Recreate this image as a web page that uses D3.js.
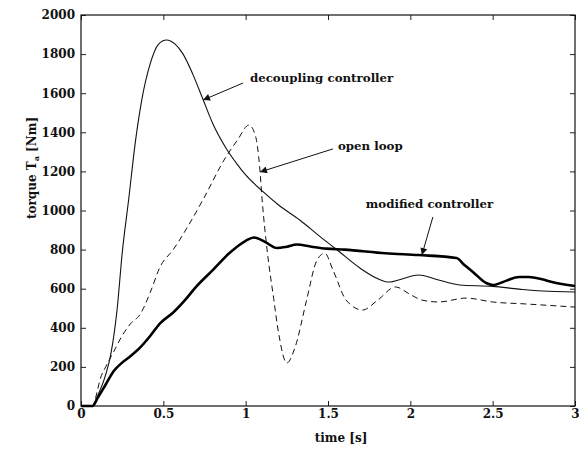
<!DOCTYPE html>
<html>
<head>
<meta charset="utf-8">
<script src="https://cdn.jsdelivr.net/npm/d3@7"></script>
<style>
  body { margin: 0; background: #fff; }
  text { font-family: "DejaVu Serif", serif; font-weight: bold; fill: #111; }
</style>
</head>
<body>
<div id="vis"></div>
<script>
// values: [time s, torque Nm]
var decoupling = [[0,0],[0.07,0],[0.1,50],[0.15,160],[0.18,260],[0.22,500],[0.25,780],[0.29,1060],
  [0.33,1350],[0.37,1570],[0.42,1750],[0.47,1850],[0.52,1872],[0.57,1852],[0.62,1800],[0.68,1695],
  [0.74,1570],[0.8,1445],[0.88,1320],[0.95,1235],[1.0,1182],[1.1,1100],[1.2,1028],[1.33,950],
  [1.45,868],[1.55,802],[1.7,702],[1.8,652],[1.87,634],[1.95,650],[2.05,670],[2.15,650],
  [2.3,619],[2.5,612],[2.66,598],[2.8,588],[3.0,583]];
var openLoop = [[0,0],[0.07,0],[0.1,80],[0.115,133],[0.15,200],[0.2,280],[0.25,360],[0.3,420],
  [0.36,470],[0.42,580],[0.48,711],[0.56,800],[0.65,920],[0.74,1054],[0.88,1274],[0.95,1360],
  [1.02,1437],[1.06,1380],[1.085,1223],[1.1,1054],[1.13,800],[1.17,550],[1.2,373],[1.25,220],
  [1.3,300],[1.37,542],[1.43,740],[1.48,782],[1.53,696],[1.61,542],[1.71,491],[1.8,540],
  [1.91,609],[2.0,570],[2.07,542],[2.17,532],[2.34,552],[2.5,532],[2.7,522],[3.0,506]];
var modified = [[0,0],[0.07,0],[0.1,40],[0.15,110],[0.2,180],[0.25,222],[0.3,255],[0.36,300],
  [0.42,358],[0.48,423],[0.56,478],[0.63,540],[0.7,611],[0.8,695],[0.9,781],[1.0,845],
  [1.05,862],[1.12,838],[1.19,808],[1.25,815],[1.31,826],[1.4,815],[1.49,805],[1.6,800],
  [1.85,781],[2.05,772],[2.28,757],[2.33,720],[2.38,686],[2.46,629],[2.5,619],[2.58,640],
  [2.66,660],[2.72,660],[2.8,648],[2.86,634],[3.0,614]];

var xTicks = [0, 0.5, 1, 1.5, 2, 2.5, 3];
var yTicks = [0, 200, 400, 600, 800, 1000, 1200, 1400, 1600, 1800, 2000];

// annotation text + arrow (start, tip) in data units
var notes = [
  { label: "decoupling controller", at: [1.026, 1657], from: [0.984, 1652], to: [0.741, 1565] },
  { label: "open loop", at: [1.56, 1309], from: [1.53, 1315], to: [1.087, 1197] },
  { label: "modified controller", at: [1.73, 1013], from: [2.137, 967], to: [2.07, 772] }
];

var width = 579, height = 451;
var margin = { top: 15, right: 4, bottom: 45, left: 81 },
  widthVis = width - margin.left - margin.right,
  heightVis = height - margin.top - margin.bottom;

var svg = d3.select("#vis").append("svg")
  .attr("width", width)
  .attr("height", height);

var g = svg.append("g")
  .attr("transform", "translate(" + margin.left + "," + margin.top + ")");

var x = d3.scaleLinear().domain([0, 3]).range([0, widthVis]);
var y = d3.scaleLinear().domain([0, 2000]).range([heightVis, 0]);

////////// axes //////////
var fmtX = function (d) { return d === 0 ? "0" : String(d); };

g.append("g")
  .attr("transform", "translate(0," + heightVis + ")")
  .call(d3.axisBottom(x).tickValues(xTicks).tickFormat(fmtX).tickSizeInner(-5).tickSizeOuter(0).tickPadding(3))
  .call(function (a) { a.select(".domain").remove(); });
g.append("g")
  .call(d3.axisTop(x).tickValues(xTicks).tickFormat("").tickSizeInner(-5).tickSizeOuter(0))
  .call(function (a) { a.select(".domain").remove(); });
g.append("g")
  .call(d3.axisLeft(y).tickValues(yTicks).tickFormat(d3.format("d")).tickSizeInner(-5).tickSizeOuter(0).tickPadding(6))
  .call(function (a) { a.select(".domain").remove(); });
g.append("g")
  .attr("transform", "translate(" + widthVis + ",0)")
  .call(d3.axisRight(y).tickValues(yTicks).tickFormat("").tickSizeInner(-5).tickSizeOuter(0))
  .call(function (a) { a.select(".domain").remove(); });

g.selectAll(".tick line").attr("stroke", "#222");
g.selectAll(".tick text").style("font-family", "DejaVu Serif").style("font-weight", "bold")
  .style("font-size", "12px").attr("fill", "#111");

g.append("rect")
  .attr("width", widthVis).attr("height", heightVis)
  .attr("fill", "none").attr("stroke", "#111").attr("stroke-width", 1.2);

////////// curves //////////
var line = d3.line()
  .x(function (d) { return x(d[0]); })
  .y(function (d) { return y(d[1]); })
  .curve(d3.curveMonotoneX);

g.append("path").datum(openLoop)
  .attr("fill", "none").attr("stroke", "#111").attr("stroke-width", 1)
  .attr("stroke-dasharray", "6,4").attr("d", line);
g.append("path").datum(decoupling)
  .attr("fill", "none").attr("stroke", "#111").attr("stroke-width", 1.1).attr("d", line);
g.append("path").datum(modified)
  .attr("fill", "none").attr("stroke", "#000").attr("stroke-width", 2.6).attr("d", line);

////////// annotations //////////
svg.append("defs").append("marker")
  .attr("id", "arrow")
  .attr("viewBox", "0 -5 10 10")
  .attr("refX", 10).attr("refY", 0)
  .attr("markerWidth", 9).attr("markerHeight", 7)
  .attr("markerUnits", "userSpaceOnUse")
  .attr("orient", "auto")
  .append("path").attr("d", "M0,-5L10,0L0,5Z").attr("fill", "#111");

notes.forEach(function (n) {
  g.append("line")
    .attr("x1", x(n.from[0])).attr("y1", y(n.from[1]))
    .attr("x2", x(n.to[0])).attr("y2", y(n.to[1]))
    .attr("stroke", "#111").attr("stroke-width", 1)
    .attr("marker-end", "url(#arrow)");
  g.append("text")
    .attr("x", x(n.at[0])).attr("y", y(n.at[1]))
    .style("font-size", "11.8px")
    .text(n.label);
});

////////// axis titles //////////
svg.append("text")
  .attr("x", 341).attr("y", 442)
  .attr("text-anchor", "middle")
  .style("font-size", "12px")
  .text("time [s]");

var yl = svg.append("text")
  .attr("transform", "translate(36,168) rotate(-90)")
  .attr("text-anchor", "middle")
  .style("font-size", "12px");
yl.append("tspan").text("torque T");
yl.append("tspan").attr("dy", 3).style("font-size", "8px").text("a");
yl.append("tspan").attr("dy", -3).text(" [Nm]");
</script>
</body>
</html>
